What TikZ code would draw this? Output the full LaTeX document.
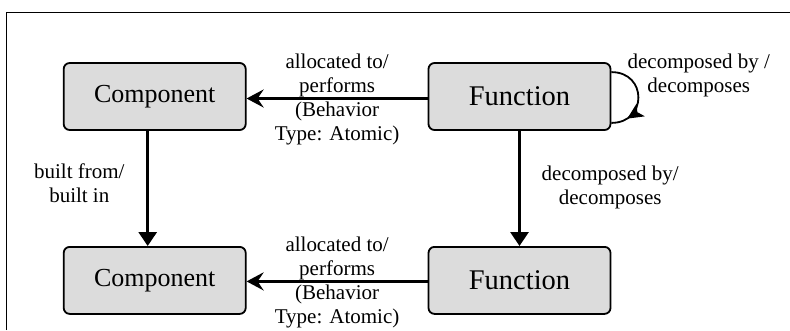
\documentclass[tikz,border=0pt]{standalone}
\usepackage{fontspec}
\setmainfont{Liberation Serif}
\usetikzlibrary{arrows.meta,calc,decorations.markings}
\definecolor{boxgray}{HTML}{DCDCDC}
\begin{document}
\begin{tikzpicture}[x=1pt,y=-1pt,
  entity/.style={draw=black,line width=1.8pt,fill=boxgray,rounded corners=6pt,
    minimum width=182pt,minimum height=67pt,inner sep=0pt,font=\fontsize{26}{30}\selectfont},
  funcfont/.style={font=\fontsize{28.5}{32}\selectfont},
  rel/.style={line width=3pt,-{Stealth[length=17pt,width=18pt,inset=6pt]}},
  dec/.style={line width=3pt,-{Triangle[length=14pt,width=18pt]}},
  lbl/.style={font=\fontsize{21}{24}\selectfont,align=center,inner sep=0pt},
  frameline/.style={line width=1pt}
]
\useasboundingbox (0,0) rectangle (790,330);
\coordinate (fa) at (6,330);
\coordinate (fb) at (6,12);
\coordinate (fc) at (790,12);
\draw[frameline] (fa) -- (fb) -- (fc);

\node[entity] (C1) at (154.7,96.5) {Component};
\node[entity,funcfont] (F1) at (519.5,96.5) {Function};
\node[entity] (C2) at (154.7,280.4) {Component};
\node[entity,funcfont] (F2) at (519.5,280.4) {Function};

\draw[rel] ([yshift=-2pt]F1.west) -- ([yshift=-2pt]C1.east);
\draw[rel] ([yshift=-1pt]F2.west) -- ([yshift=-1pt]C2.east);
\draw[dec] ([xshift=-7pt]C1.south) -- ([xshift=-7pt]C2.north);
\draw[dec] (F1.south) -- (F2.north);

\draw[line width=1.8pt,
  decoration={markings,mark=at position 0.8 with {\arrow{Stealth[length=16pt,width=15pt,inset=4pt]}}},
  postaction=decorate]
  ($(F1.north east)+(0,10)$) .. controls ($(F1.north east)+(36,10)$) and ($(F1.south east)+(36,-8)$) .. ($(F1.south east)+(0,-8)$);

\node[lbl] (L1) at ($(C1.east)!0.5!(F1.west)+(0,2.5)$) {allocated to/\\performs\\(Behavior\\Type: Atomic)};
\node[lbl] (L2) at ($(C2.east)!0.5!(F2.west)+(0,2.5)$) {allocated to/\\performs\\(Behavior\\Type: Atomic)};
\node[lbl,anchor=west] (L3) at ($(F1.south)!0.5!(F2.north)+(22,-1.5)$) {decomposed by/\\decomposes};
\node[lbl,anchor=east] (L4) at ($(C1.south)!0.5!(C2.north)+(-30,-5)$) {built from/\\built in};
\node[lbl,anchor=west] (L5) at ($(F1.east)+(16,-21.5)$) {decomposed by /\\decomposes};
\end{tikzpicture}
\end{document}
